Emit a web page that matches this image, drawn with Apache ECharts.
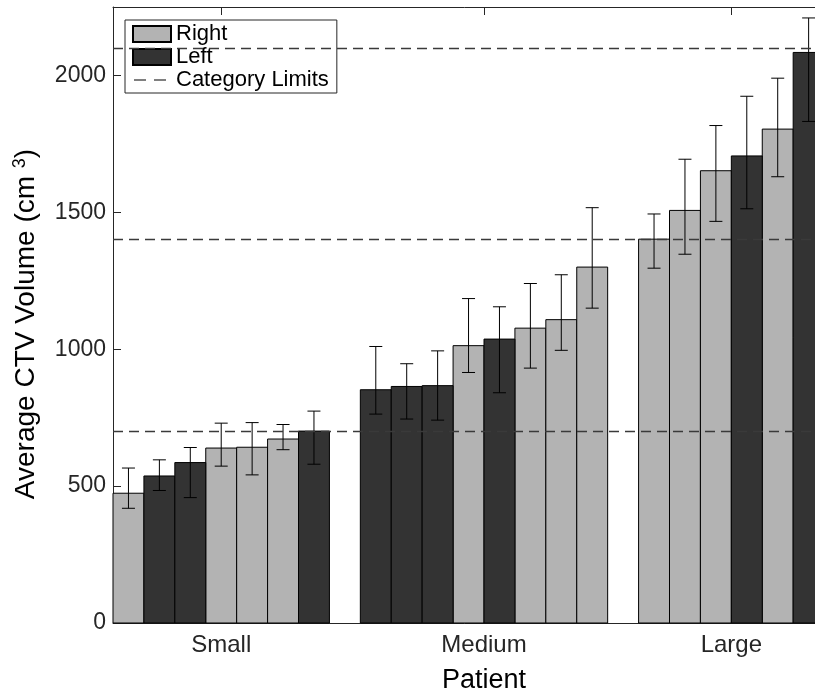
<!DOCTYPE html>
<html><head><meta charset="utf-8">
<script src="https://cdn.jsdelivr.net/npm/echarts@6/dist/echarts.min.js"></script>
<style>html,body{margin:0;padding:0;background:#fff}#c{width:815px;height:693px}</style>
</head><body><div id="c"></div>
<script>
// ---- data ----
const groups = ['Small', 'Medium', 'Large'];
const groupSizes = [7, 8, 6];
const sides = ['R','L','L','R','R','R','L',  'L','L','L','R','L','R','R','R',  'R','R','R','L','R','L'];
const means = [474, 537, 586, 639, 642, 672, 701,  852, 864, 867, 1013, 1037, 1077, 1108, 1300,  1402, 1507, 1652, 1706, 1804, 2084];
const errLow = [419, 484, 458, 573, 541, 633, 580,  763, 745, 741, 915, 841, 931, 996, 1150,  1296, 1347, 1467, 1513, 1630, 1832];
const errHigh = [566, 596, 641, 730, 732, 725, 774,  1010, 947, 994, 1185, 1155, 1240, 1272, 1517,  1494, 1694, 1817, 1924, 1990, 2210];
const limits = [700, 1400, 2100];
const yTicks = [0, 500, 1000, 1500, 2000];

// ---- positions (patient slots, one empty slot between groups) ----
const positions = [];
const groupCenters = [];
let slot = 1;
groupSizes.forEach(function (n) {
  const first = slot;
  for (let k = 0; k < n; k++) { positions.push(slot); slot++; }
  groupCenters.push((first + slot - 1) / 2);
  slot++;
});
const xMin = 0.5, xMax = slot - 0.5;   // 0.5 .. 24.5

const rightData = [], leftData = [], errData = [];
means.forEach(function (v, i) {
  (sides[i] === 'R' ? rightData : leftData).push([positions[i], v]);
  errData.push([positions[i], errLow[i], errHigh[i]]);
});

const FONT = "'Liberation Sans', Arial, Helvetica, sans-serif";
const AX = '#262626';
const LIGHT = '#b3b3b3', DARK = '#333333';
// dashed-line legend glyph (38x16 box, two dashes on the centre line)
const DASH_ICON = 'path://M0,0h0.01v0.01h-0.01z M1,7.25h12v1.5h-12z M21,7.25h12v1.5h-12z M37.99,15.99h0.01v0.01h-0.01z';

function barItem(fill) {
  return function (params, api) {
    const x = api.value(0), y = api.value(1);
    const p0 = api.coord([x - 0.5, y]);
    const p1 = api.coord([x + 0.5, 0]);
    return {
      type: 'rect',
      shape: { x: p0[0], y: p0[1], width: p1[0] - p0[0], height: p1[1] - p0[1] },
      style: { fill: fill, stroke: '#000', lineWidth: 1 }
    };
  };
}

function errItem(params, api) {
  const x = api.value(0);
  const pl = api.coord([x, api.value(1)]);
  const ph = api.coord([x, api.value(2)]);
  const hw = 6.5;
  const st = { stroke: '#000', lineWidth: 1 };
  return {
    type: 'group',
    children: [
      { type: 'line', shape: { x1: pl[0], y1: pl[1], x2: ph[0], y2: ph[1] }, style: st },
      { type: 'line', shape: { x1: pl[0] - hw, y1: pl[1], x2: pl[0] + hw, y2: pl[1] }, style: st },
      { type: 'line', shape: { x1: ph[0] - hw, y1: ph[1], x2: ph[0] + hw, y2: ph[1] }, style: st }
    ]
  };
}

const chart = echarts.init(document.getElementById('c'), null, { renderer: 'canvas' });
chart.setOption({
  animation: false,
  backgroundColor: '#fff',
  textStyle: { fontFamily: FONT },
  grid: { left: 113, top: 7, width: 742, height: 616, containLabel: false, outerBoundsMode: 'none' },
  legend: {
    orient: 'vertical',
    left: 125, top: 20,
    padding: [3, 8, 2, 7],
    itemGap: 1,
    itemWidth: 38, itemHeight: 16,
    backgroundColor: '#fff',
    borderColor: AX, borderWidth: 1,
    textStyle: { fontFamily: FONT, fontSize: 22, lineHeight: 21, color: '#000' },
    data: [
      { name: 'Right', icon: 'rect' },
      { name: 'Left', icon: 'rect' },
      { name: 'Category Limits', icon: DASH_ICON, itemStyle: { color: '#555', borderWidth: 0 } }
    ]
  },
  xAxis: [{
    type: 'value', min: xMin, max: xMax,
    position: 'bottom',
    name: 'Patient', nameLocation: 'middle', nameGap: 44,
    nameTextStyle: { fontFamily: FONT, fontSize: 27, color: '#000' },
    axisLine: { show: true, lineStyle: { color: AX, width: 1 } },
    axisTick: { show: true, inside: true, length: 8, customValues: groupCenters, lineStyle: { color: AX } },
    axisLabel: {
      show: true, customValues: groupCenters, margin: 10,
      fontFamily: FONT, fontSize: 24, color: AX,
      formatter: function (v) { const i = groupCenters.indexOf(v); return i >= 0 ? groups[i] : ''; }
    },
    splitLine: { show: false }
  }, {
    type: 'value', min: xMin, max: xMax,
    position: 'top',
    axisLine: { show: true, lineStyle: { color: AX, width: 1 } },
    axisTick: { show: true, inside: true, length: 8, customValues: groupCenters, lineStyle: { color: AX } },
    axisLabel: { show: false },
    splitLine: { show: false }
  }],
  yAxis: {
    type: 'value', min: 0, max: 2250,
    name: 'Average CTV Volume (cm {sup|3})',
    nameLocation: 'middle', nameGap: 72, nameRotate: 90,
    nameTextStyle: {
      fontFamily: FONT, fontSize: 28, color: '#000', padding: [0, 18, 0, 0],
      rich: { sup: { fontFamily: FONT, fontSize: 18, color: '#000', verticalAlign: 'top', padding: [0, 0, 12, 0] } }
    },
    axisLine: { show: true, lineStyle: { color: AX, width: 1 } },
    axisTick: { show: true, inside: true, length: 8, customValues: yTicks, lineStyle: { color: AX } },
    axisLabel: {
      show: true, customValues: yTicks, margin: 7, fontFamily: FONT, fontSize: 23, color: AX,
      formatter: function (v) { return String(v); }
    },
    splitLine: { show: false }
  },
  series: [
    {
      name: 'Right', type: 'custom', renderItem: barItem(LIGHT),
      itemStyle: { color: LIGHT, borderColor: '#000', borderWidth: 1 },
      encode: { x: 0, y: 1 }, data: rightData, z: 2
    },
    {
      name: 'Left', type: 'custom', renderItem: barItem(DARK),
      itemStyle: { color: DARK, borderColor: '#000', borderWidth: 1 },
      encode: { x: 0, y: 1 }, data: leftData, z: 2
    },
    {
      name: 'errors', type: 'custom', renderItem: errItem,
      encode: { x: 0, y: [1, 2] }, data: errData, z: 4, silent: true
    },
    {
      name: 'Category Limits', type: 'line', data: [], symbol: 'none', showSymbol: false,
      lineStyle: { type: [10, 6], width: 1.3, color: '#444' },
      itemStyle: { color: '#555' },
      markLine: {
        silent: true, symbol: ['none', 'none'],
        label: { show: false },
        lineStyle: { type: [10, 6], width: 1.3, color: '#3a3a3a' },
        data: limits.map(function (v) { return { yAxis: v }; })
      },
      z: 3
    }
  ]
});
</script>
</body></html>
